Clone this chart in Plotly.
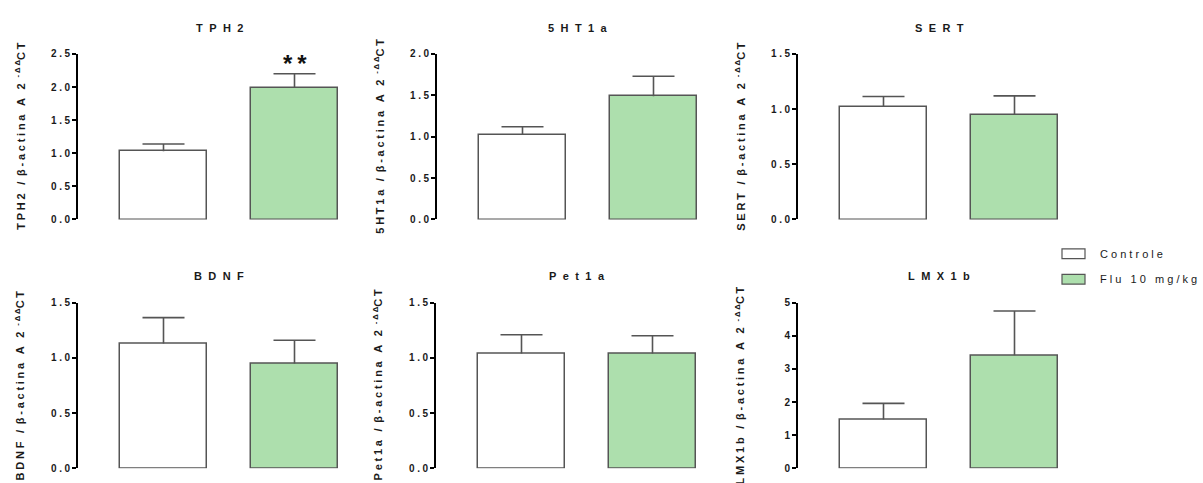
import plotly.graph_objects as go

W, H = 1203, 483

genes = ["TPH2", "5HT1a", "SERT", "BDNF", "Pet1a", "LMX1b"]
groups = ["Controle", "Flu 10 mg/kg"]
controle_mean = [1.03, 1.02, 1.02, 1.13, 1.04, 1.47]
controle_err = [0.11, 0.10, 0.095, 0.235, 0.17, 0.49]
flu_mean = [1.99, 1.49, 0.95, 0.95, 1.04, 3.41]
flu_err = [0.21, 0.24, 0.17, 0.21, 0.16, 1.34]
y_max = [2.5, 2.0, 1.5, 1.5, 1.5, 5]
y_step = [0.5, 0.5, 0.5, 0.5, 0.5, 1]
tick_decimals = [1, 1, 1, 1, 1, 0]
sig_gene = "TPH2"
sig_text = "**"

fill_colors = ["#ffffff", "#addfad"]
edge_color = "#555555"
FONT = "Liberation Sans"
TXT = "#1a1a1a"

SP_AX = "\u2005"          # letter spacing for axis text
SP_TK = "\u2005"          # letter spacing for tick labels
SP_TI = "\u2002\u200a"    # letter spacing for panel titles
SP_LG = "\u00a0"          # letter spacing for legend text


def spaced(s, sep):
    return sep.join(list(s))


def px_x(x):
    return x / W


def px_y(y):
    return 1 - y / H


axis_left = [78, 437, 798, 78, 436, 798]
row_top = [50, 50, 50, 304, 304, 304]
row_bot = [219, 219, 219, 473, 473, 473]
title_y = [23, 23, 23, 277, 277, 277]

fig = go.Figure()
annotations = []
shapes = []

unit = 131.0
first_center = 85.5
span = 272
bar_w = 87 / unit
cap_half = 21 / unit

for i, g in enumerate(genes):
    n = i + 1
    xa = "x" if n == 1 else f"x{n}"
    ya = "y" if n == 1 else f"y{n}"
    means = [controle_mean[i], flu_mean[i]]
    errs = [controle_err[i], flu_err[i]]
    fig.add_trace(go.Bar(
        x=[0, 1], y=means, width=bar_w,
        marker=dict(color=fill_colors, line=dict(color=edge_color, width=1.5)),
        xaxis=xa, yaxis=ya, showlegend=False, hoverinfo="skip",
    ))
    # upper-only error bars
    ex, ey = [], []
    for c, (m, e) in enumerate(zip(means, errs)):
        ex += [c, c, None, c - cap_half, c + cap_half, None]
        ey += [m, m + e, None, m + e, m + e, None]
    fig.add_trace(go.Scatter(
        x=ex, y=ey, mode="lines", line=dict(color=edge_color, width=1.6),
        xaxis=xa, yaxis=ya, showlegend=False, hoverinfo="skip", cliponaxis=False,
    ))
    ax0 = axis_left[i]
    xdom = [px_x(ax0), px_x(ax0 + span)]
    ydom = [px_y(row_bot[i]), px_y(row_top[i])]
    nt = int(round(y_max[i] / y_step[i]))
    tv = [k * y_step[i] for k in range(nt + 1)]
    tt = [spaced(f"{v:.{tick_decimals[i]}f}", SP_TK) for v in tv]
    fig.update_layout(**{
        ("xaxis" if n == 1 else f"xaxis{n}"): dict(
            domain=xdom, range=[-first_center / unit, (span - first_center) / unit],
            visible=False, fixedrange=True),
        ("yaxis" if n == 1 else f"yaxis{n}"): dict(
            domain=ydom, range=[0, y_max[i]], showline=True, linewidth=2,
            linecolor="black", ticks="outside", ticklen=4, tickwidth=1.5,
            tickcolor="black", showgrid=False, zeroline=False,
            tickvals=tv, ticktext=tt,
            tickfont=dict(family=FONT, size=10, color=TXT, weight="bold"),
            anchor=xa),
    })
    # panel title
    annotations.append(dict(
        x=px_x(ax0 + 141), y=px_y(title_y[i]), xref="paper", yref="paper",
        text=spaced(g, SP_TI), showarrow=False, xanchor="center", yanchor="middle",
        font=dict(family=FONT, size=11, color=TXT, weight="bold")))
    # y axis title
    label = (spaced(g + " / ", SP_AX) + "β" + SP_AX + spaced("-actina A 2 ", SP_AX)
             + "<sup>" + spaced("-ΔΔ", SP_AX) + "</sup>" + spaced("CT", SP_AX))
    annotations.append(dict(
        x=px_x(ax0 - 58), y=(ydom[0] + ydom[1]) / 2, xref="paper", yref="paper",
        text=label, showarrow=False, textangle=-90, xanchor="center", yanchor="middle",
        font=dict(family=FONT, size=11, color=TXT, weight="bold")))
    if g == sig_gene:
        annotations.append(dict(
            x=1, y=flu_mean[i] + flu_err[i], xref=xa, yref=ya,
            text=spaced(sig_text, "\u2009"), showarrow=False, xanchor="center",
            yanchor="bottom", yshift=-5,
            font=dict(family=FONT, size=24, color="#111", weight="bold")))

# legend (drawn manually)
leg_rows = [254, 280]
for k, name in enumerate(groups):
    cy = leg_rows[k]
    shapes.append(dict(type="rect", xref="paper", yref="paper",
                       x0=px_x(1062), x1=px_x(1085), y0=px_y(cy + 5), y1=px_y(cy - 5),
                       fillcolor=fill_colors[k], line=dict(color=edge_color, width=1.2)))
    annotations.append(dict(
        x=px_x(1098), y=px_y(cy), xref="paper", yref="paper",
        text=spaced(name, SP_LG), showarrow=False, xanchor="left", yanchor="middle",
        font=dict(family=FONT, size=11, color=TXT)))

fig.update_layout(
    width=W, height=H, margin=dict(l=0, r=0, t=0, b=0),
    paper_bgcolor="white", plot_bgcolor="white",
    annotations=annotations, shapes=shapes, bargap=0, showlegend=False,
)

fig.write_html("out.html")
